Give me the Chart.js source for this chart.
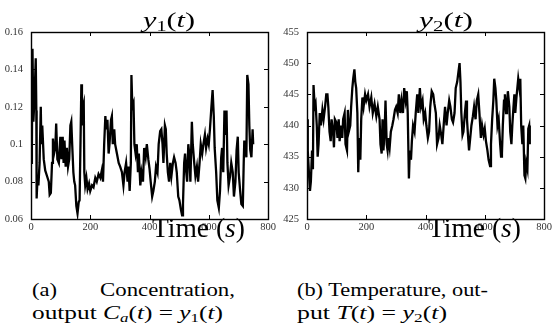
<!DOCTYPE html>
<html>
<head>
<meta charset="utf-8">
<script src="https://cdn.jsdelivr.net/npm/chart.js@4.4.1/dist/chart.umd.min.js"></script>
<style>
  html,body{margin:0;padding:0;background:#fff;}
  body{width:552px;height:335px;position:relative;overflow:hidden;font-family:"Liberation Serif","Times New Roman",serif;color:#000;}
  .cv{position:absolute;top:0;width:276px;height:240px;}
  .txt{position:absolute;white-space:nowrap;line-height:1;transform-origin:0 0;}
  .ttl{font-size:21px;}
  .ttl sub{font-size:14px;font-style:normal;vertical-align:-4px;line-height:0;}
  .time{font-size:27px;}
  .cap{font-size:18px;}
  .cap sub{font-size:12px;vertical-align:-3px;line-height:0;}
  i{font-style:italic;}
</style>
</head>
<body>
<canvas id="chartA" class="cv" style="left:0" width="276" height="240"></canvas>
<canvas id="chartB" class="cv" style="left:276px" width="276" height="240"></canvas>

<div class="txt ttl fit" data-w="52" style="left:143px;top:10px"><i>y</i><sub>1</sub>(<i>t</i>)</div>
<div class="txt ttl fit" data-w="54" style="left:419px;top:10px"><i>y</i><sub>2</sub>(<i>t</i>)</div>
<div class="txt time fit" data-w="93" style="left:152px;top:215px">Time (<i>s</i>)</div>
<div class="txt time fit" data-w="93" style="left:428px;top:215px">Time (<i>s</i>)</div>

<div class="txt cap fit" data-w="25" style="left:32px;top:281px">(a)</div>
<div class="txt cap fit" data-w="135" style="left:100px;top:281px">Concentration,</div>
<div class="txt cap fit" data-w="191" style="left:32px;top:304px">output <i>C</i><sub><i>a</i></sub>(<i>t</i>) = <i>y</i><sub>1</sub>(<i>t</i>)</div>
<div class="txt cap fit" data-w="191" style="left:297px;top:281px">(b) Temperature, out-</div>
<div class="txt cap fit" data-w="150" style="left:297px;top:304px">put <i>T</i>(<i>t</i>) = <i>y</i><sub>2</sub>(<i>t</i>)</div>

<script>
// ---- Data ----
const timeA = [
  0,3,5,8,12,16,18,19,22,25,
  29,33,35,38,43,48,54,60,63,67,
  71,74,78,82,85,89,94,99,103,107,
  110,113,117,121,125,129,133,136,139,143,
  146,149,153,157,161,164,167,170,172,175,
  178,180,183,187,191,196,200,206,211,217,
  222,228,234,239,243,247,251,254,258,262,
  265,270,273,276,281,284,290,296,301,307,
  312,316,321,326,329,333,337,339,342,346,
  349,353,357,361,364,369,373,378,382,387,
  391,396,400,404,409,413,418,422,427,431,
  436,440,444,447,452,455,458,462,466,470,
  474,479,483,488,492,497,501,506,510,513,
  517,520,524,527,531,535,538,543,546,551,
  555,560,564,569,573,578,582,587,591,596,
  600,604,609,613,617,620,625,629,634,638,
  642,645,649,653,656,660,663,667,672,676,
  681,685,690,694,698,701,706,710,715,718,
  720,724,727,730,734,737,740,744,748,750
];
const concentration = [
  .090,.098,.151,.112,.125,.146,.118,.071,.082,.078,
  .090,.120,.100,.110,.092,.086,.083,.080,.073,.074,
  .090,.103,.095,.098,.111,.092,.090,.104,.092,.104,
  .090,.102,.088,.098,.088,.092,.110,.112,.100,.085,
  .080,.078,.067,.063,.069,.070,.100,.132,.110,.120,
  .122,.085,.078,.082,.076,.079,.075,.078,.077,.082,
  .080,.084,.082,.086,.080,.100,.115,.108,.113,.095,
  .100,.113,.115,.100,.108,.100,.095,.090,.088,.085,
  .078,.085,.090,.080,.088,.075,.090,.137,.120,.122,
  .100,.095,.100,.085,.095,.078,.085,.080,.098,.093,
  .100,.092,.087,.080,.072,.075,.080,.088,.085,.100,
  .107,.108,.100,.090,.110,.108,.095,.085,.080,.090,
  .083,.090,.093,.090,.085,.072,.070,.065,.062,.068,
  .090,.095,.085,.080,.100,.093,.080,.112,.100,.090,
  .083,.088,.080,.090,.100,.095,.100,.105,.098,.103,
  .100,.108,.120,.129,.115,.098,.085,.070,.066,.075,
  .093,.098,.085,.118,.105,.118,.090,.078,.083,.090,
  .085,.072,.080,.097,.104,.085,.075,.068,.067,.090,
  .102,.097,.093,.137,.132,.110,.097,.093,.108,.100
];
const timeB = [
  0,2,3,7,10,13,17,20,22,26,
  29,33,36,39,43,47,52,56,61,65,
  69,72,76,80,83,88,91,94,99,103,
  107,110,115,119,122,127,130,135,138,141,
  146,149,153,156,160,163,166,170,173,176,
  180,183,187,191,196,200,206,211,217,222,
  228,234,239,245,248,252,255,258,262,265,
  269,272,275,279,283,288,292,297,301,306,
  310,315,319,324,328,333,337,340,344,347,
  351,354,358,363,367,372,376,381,385,390,
  394,399,403,408,412,416,421,426,430,435,
  439,444,448,453,457,462,466,471,475,480,
  484,489,493,498,502,507,511,515,518,521,
  525,528,533,537,540,544,547,551,555,560,
  564,569,573,578,582,587,591,596,600,604,
  609,613,618,621,625,629,632,636,639,643,
  647,652,655,658,661,665,668,672,675,678,
  683,686,690,693,697,700,703,707,710,713,
  717,720,723,727,730,734,737,740,744,747,
  750,752
];
const temperature = [
  441,438,436,432,429.5,431,436,433,446.5,443,
  443.5,440,435,437,442,440,442.5,441,443,445,
  445,443,439,437.5,441,439,436.5,441,440.5,438,
  441,437.5,440,438,441,442,437,436,442.5,439,
  440,443,446,447.5,449,447,446,442,432.5,438,
  434.5,441,444.5,443,445,444,445,443,444.5,442,
  443.5,441.5,443,441,437,435.5,441,436,439,444,
  437,436,438,436.5,439,440,441,442.5,443,442,
  445,442,444,442,446,444,445.5,442,431.5,436,
  434.5,437.5,440,439,442,445,442,446,443,444,
  441,442,440,438,439,443,445.5,445,443.5,442,
  437,438,440,438.5,437,440.5,443,440,442,444,
  443,441,440.5,442,446,447,448.5,450,447,442,
  438.5,439,442,444,441,438,436,438,440,441.5,
  443,441,444,445,442,438,440,438.5,439.5,437.5,
  436,434.5,433.5,437,441,444,447.5,446,444,440,
  441,437,435,435.5,440,444,445,442,443,445.5,
  443,439,437,440,443,445,442,444.5,446,447.5,
  446,447.5,440,437,440,432,431.5,434,433,439.5,
  440,437
];
const xTicks = [0, 200, 400, 600, 800];
const yTicksA = [0.06, 0.08, 0.1, 0.12, 0.14, 0.16];
const yTicksB = [425, 430, 435, 440, 445, 450, 455];

// ---- Helpers ----
const boxPlugin = {
  id: 'matlabBox',
  afterDraw(chart) {
    const {ctx, chartArea: a, scales: {x, y}} = chart;
    ctx.save();
    ctx.strokeStyle = '#000';
    ctx.lineWidth = 1;
    const L = 4;
    ctx.beginPath();
    x.ticks.forEach(t => {
      const px = Math.round(x.getPixelForValue(t.value)) + 0.5;
      ctx.moveTo(px, a.bottom); ctx.lineTo(px, a.bottom - L);
      ctx.moveTo(px, a.top); ctx.lineTo(px, a.top + L);
    });
    y.ticks.forEach(t => {
      const py = Math.round(y.getPixelForValue(t.value)) + 0.5;
      ctx.moveTo(a.left, py); ctx.lineTo(a.left + L, py);
      ctx.moveTo(a.right, py); ctx.lineTo(a.right - L, py);
    });
    ctx.stroke();
    ctx.lineWidth = 1.4;
    ctx.strokeRect(Math.round(a.left) + 0.5, Math.round(a.top) + 0.5,
                   Math.round(a.right - a.left), Math.round(a.bottom - a.top));
    ctx.restore();
  }
};

function makeChart(id, times, values, yTicks, fmt) {
  const pts = times.map((t, i) => ({x: t, y: values[i]}));
  const tickFont = {family: "'Liberation Serif', serif", size: 10.5};
  return new Chart(document.getElementById(id), {
    type: 'line',
    data: {datasets: [{data: pts, borderColor: '#000', borderWidth: 2.3,
                       pointRadius: 0, tension: 0, fill: false,
                       borderJoinStyle: 'miter'}]},
    options: {
      responsive: false, animation: false, devicePixelRatio: 1,
      layout: {padding: {left: 0, top: 32, right: 8, bottom: 0}},
      plugins: {legend: {display: false}, tooltip: {enabled: false}},
      scales: {
        x: {
          type: 'linear', min: xTicks[0], max: xTicks[xTicks.length - 1],
          afterBuildTicks: s => { s.ticks = xTicks.map(v => ({value: v})); },
          afterFit: s => { s.height = 21; s.paddingLeft = 0; s.paddingRight = 0; },
          grid: {display: false, drawTicks: false},
          border: {display: false},
          ticks: {font: tickFont, color: '#333', padding: 2, autoSkip: false, maxRotation: 0,
                  callback: v => String(v)}
        },
        y: {
          type: 'linear', min: yTicks[0], max: yTicks[yTicks.length - 1],
          afterBuildTicks: s => { s.ticks = yTicks.map(v => ({value: v})); },
          afterFit: s => { s.width = 31; s.paddingTop = 0; s.paddingBottom = 0; },
          grid: {display: false, drawTicks: false},
          border: {display: false},
          ticks: {font: tickFont, color: '#333', padding: 8, autoSkip: false,
                  callback: fmt}
        }
      }
    },
    plugins: [boxPlugin]
  });
}

makeChart('chartA', timeA, concentration, yTicksA, v => String(Number(v.toFixed(2))));
makeChart('chartB', timeB, temperature, yTicksB, v => String(v));

// Stretch the text blocks horizontally to the widths seen in the reference
function fitText() {
  document.querySelectorAll('.fit').forEach(el => {
    el.style.transform = 'none';
    const w = el.getBoundingClientRect().width;
    const target = parseFloat(el.dataset.w);
    if (w > 0) el.style.transform = 'scaleX(' + (target / w) + ')';
  });
}
fitText();
if (document.fonts && document.fonts.ready) document.fonts.ready.then(fitText);
</script>
</body>
</html>
